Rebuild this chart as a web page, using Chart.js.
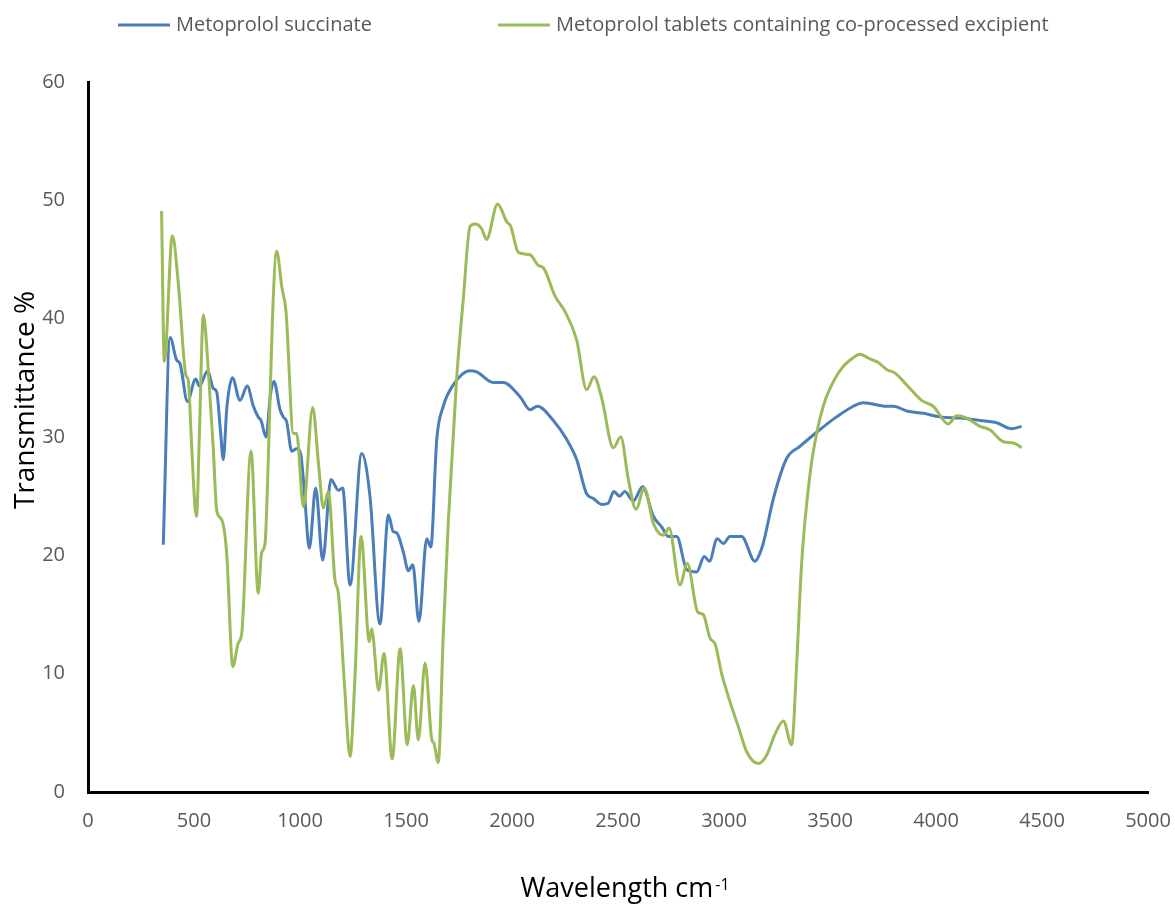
<!DOCTYPE html>
<html>
<head>
<meta charset="utf-8">
<script src="https://cdn.jsdelivr.net/npm/chart.js@4.4.1/dist/chart.umd.min.js"></script>
<style>
html,body{margin:0;padding:0;background:#fff;}
#wrap{position:relative;width:1175px;height:905px;}
</style>
</head>
<body>
<div id="wrap"><canvas id="c" width="1175" height="905"></canvas></div>
<script>
// ---- data ----
const seriesNames = ["Metoprolol succinate", "Metoprolol tablets containing co-processed excipient"];

const succinateX = [355, 387, 418, 434, 469, 508, 525, 565, 591, 607, 625, 638, 655, 681, 717, 751, 780, 803, 816, 840, 860, 877, 906, 921, 937, 961, 984, 1003, 1020, 1044, 1074, 1107, 1146, 1181, 1201, 1236, 1291, 1330, 1377, 1417, 1440, 1456, 1487, 1511, 1532, 1561, 1598, 1617, 1645, 1676, 1723, 1802, 1833, 1912, 1959, 2038, 2085, 2120, 2195, 2258, 2305, 2352, 2384, 2423, 2454, 2480, 2507, 2532, 2572, 2616, 2667, 2706, 2737, 2777, 2824, 2871, 2907, 2931, 2968, 2997, 3028, 3083, 3146, 3170, 3185, 3233, 3296, 3358, 3437, 3531, 3610, 3657, 3767, 3799, 3862, 3940, 4019, 4113, 4208, 4286, 4357, 4404];
const succinateY = [20.9, 38.4, 36.5, 36.2, 33.0, 34.9, 34.3, 35.6, 34.1, 33.8, 30.5, 28.1, 32.5, 35.0, 33.1, 34.3, 32.6, 31.7, 31.4, 30.0, 33.5, 34.7, 32.3, 31.7, 31.3, 28.8, 29.0, 28.6, 25.5, 20.6, 25.7, 19.6, 26.4, 25.5, 25.7, 17.5, 28.6, 25.0, 14.2, 23.4, 22.0, 21.9, 20.3, 18.7, 19.2, 14.4, 21.4, 20.7, 29.8, 32.6, 34.4, 35.6, 35.5, 34.6, 34.6, 33.4, 32.3, 32.6, 31.4, 29.8, 28.1, 25.2, 24.8, 24.3, 24.4, 25.4, 25.0, 25.4, 24.6, 25.8, 23.3, 22.4, 21.6, 21.6, 18.8, 18.6, 19.9, 19.5, 21.4, 21.0, 21.6, 21.6, 19.5, 20.2, 21.0, 24.8, 28.2, 29.2, 30.4, 31.7, 32.6, 32.9, 32.6, 32.6, 32.2, 32.0, 31.7, 31.6, 31.4, 31.2, 30.7, 30.9];

const tabletX = [347, 360, 398, 426, 462, 473, 489, 505, 512, 525, 544, 568, 591, 607, 631, 654, 683, 709, 725, 769, 803, 819, 835, 850, 870, 890, 914, 934, 969, 984, 1016, 1060, 1087, 1110, 1134, 1165, 1181, 1210, 1236, 1260, 1288, 1327, 1338, 1371, 1396, 1435, 1472, 1506, 1535, 1558, 1590, 1621, 1632, 1652, 1676, 1700, 1739, 1770, 1802, 1826, 1857, 1880, 1932, 1975, 1994, 2030, 2085, 2124, 2148, 2203, 2250, 2305, 2352, 2387, 2423, 2478, 2513, 2549, 2585, 2624, 2667, 2714, 2741, 2792, 2827, 2876, 2902, 2934, 2958, 2989, 3036, 3068, 3107, 3162, 3201, 3241, 3280, 3319, 3343, 3366, 3406, 3437, 3468, 3500, 3555, 3602, 3641, 3689, 3728, 3767, 3807, 3862, 3932, 3987, 4058, 4097, 4145, 4208, 4255, 4318, 4365, 4404];
const tabletY = [49.1, 36.4, 47.0, 43.0, 35.2, 34.8, 29.2, 24.0, 23.3, 30.0, 40.3, 35.5, 29.0, 23.8, 23.0, 20.2, 10.6, 12.6, 13.4, 28.8, 16.8, 20.2, 21.0, 27.8, 40.0, 45.7, 42.7, 40.6, 30.3, 30.3, 24.1, 32.5, 27.8, 24.0, 25.4, 17.9, 16.8, 9.0, 3.0, 10.0, 21.6, 12.7, 13.8, 8.6, 11.7, 2.8, 12.1, 4.0, 9.0, 4.4, 10.9, 4.5, 4.1, 2.5, 13.4, 23.0, 35.0, 41.6, 47.8, 48.0, 47.6, 46.7, 49.7, 48.2, 47.8, 45.6, 45.4, 44.5, 44.3, 41.9, 40.6, 38.2, 34.0, 35.1, 33.3, 29.1, 30.0, 26.4, 23.9, 25.7, 22.7, 21.7, 22.3, 17.5, 19.3, 15.2, 15.0, 13.0, 12.5, 10.0, 7.2, 5.5, 3.4, 2.4, 3.1, 4.9, 6.0, 4.0, 10.9, 19.3, 26.9, 30.3, 32.6, 34.1, 35.8, 36.6, 37.0, 36.6, 36.3, 35.7, 35.4, 34.4, 33.1, 32.6, 31.1, 31.8, 31.6, 30.9, 30.6, 29.6, 29.5, 29.1];

const xTickValues = [0, 500, 1000, 1500, 2000, 2500, 3000, 3500, 4000, 4500, 5000];
const yTickValues = [0, 10, 20, 30, 40, 50, 60];
const xTitleMain = "Wavelength cm";
const xTitleSup = "-1";
const yTitleText = "Transmittance %";

// ---- style ----
const FONT = "'Open Sans', 'DejaVu Sans', sans-serif";
const colors = ["#4A7EBB", "#9BBB59"];

function toPoints(xs, ys) { return xs.map((x, i) => ({ x: x, y: ys[i] })); }

const legendPlugin = {
  id: 'customLegend',
  afterDraw(chart) {
    const ctx = chart.ctx;
    ctx.save();
    ctx.font = "20px " + FONT;
    ctx.textBaseline = 'middle';
    ctx.textAlign = 'left';
    let x = 118;
    const y = 25;
    chart.data.datasets.forEach((ds) => {
      ctx.strokeStyle = ds.borderColor;
      ctx.lineWidth = 3;
      ctx.beginPath();
      ctx.moveTo(x, y);
      ctx.lineTo(x + 52, y);
      ctx.stroke();
      ctx.fillStyle = '#595959';
      ctx.fillText(ds.label, x + 58, y);
      x += 58 + ctx.measureText(ds.label).width + 126;
    });
    ctx.restore();
  }
};

const titlesPlugin = {
  id: 'axisTitles',
  afterDraw(chart) {
    const ctx = chart.ctx;
    ctx.save();
    ctx.fillStyle = '#000';
    ctx.font = "27px " + FONT;
    const wMain = ctx.measureText(xTitleMain).width;
    ctx.font = "16px " + FONT;
    const wSup = ctx.measureText(xTitleSup).width;
    const total = wMain + 2 + wSup;
    const startX = 625 - total / 2;
    ctx.textAlign = 'left';
    ctx.textBaseline = 'alphabetic';
    ctx.font = "27px " + FONT;
    ctx.fillText(xTitleMain, startX, 897);
    ctx.font = "16px " + FONT;
    ctx.fillText(xTitleSup, startX + wMain + 2, 890);
    ctx.font = "28px " + FONT;
    ctx.translate(34, 400);
    ctx.rotate(-Math.PI / 2);
    ctx.textAlign = 'center';
    ctx.fillText(yTitleText, 0, 0);
    ctx.restore();
  }
};

new Chart(document.getElementById('c'), {
  type: 'line',
  data: {
    datasets: [
      { label: seriesNames[0], data: toPoints(succinateX, succinateY), borderColor: colors[0], backgroundColor: colors[0], borderWidth: 3, pointRadius: 0, fill: false, cubicInterpolationMode: 'monotone', order: 1 },
      { label: seriesNames[1], data: toPoints(tabletX, tabletY), borderColor: colors[1], backgroundColor: colors[1], borderWidth: 3, pointRadius: 0, fill: false, cubicInterpolationMode: 'monotone', order: 0 }
    ]
  },
  options: {
    responsive: false,
    animation: false,
    devicePixelRatio: 1,
    layout: { padding: { top: 82, right: 27, bottom: 0, left: 0 } },
    plugins: { legend: { display: false }, tooltip: { enabled: false } },
    scales: {
      x: {
        type: 'linear', min: 0, max: 5000,
        afterBuildTicks: (s) => { s.ticks = xTickValues.map(v => ({ value: v })); },
        afterFit: (s) => { s.height = 113; s.paddingLeft = 0; s.paddingRight = 0; },
        grid: { display: false, drawTicks: false },
        border: { display: true, color: '#000', width: 3 },
        ticks: { color: '#595959', font: { family: FONT, size: 20 }, padding: 17, maxRotation: 0, autoSkip: false, callback: (v) => String(v) },
        title: { display: false }
      },
      y: {
        type: 'linear', min: 0, max: 60,
        afterBuildTicks: (s) => { s.ticks = yTickValues.map(v => ({ value: v })); },
        afterFit: (s) => { s.width = 88; s.paddingTop = 0; s.paddingBottom = 0; },
        grid: { display: false, drawTicks: false },
        border: { display: true, color: '#000', width: 3 },
        ticks: { color: '#595959', font: { family: FONT, size: 20 }, padding: 23, callback: (v) => String(v) },
        title: { display: false }
      }
    }
  },
  plugins: [legendPlugin, titlesPlugin]
});
</script>
</body>
</html>
